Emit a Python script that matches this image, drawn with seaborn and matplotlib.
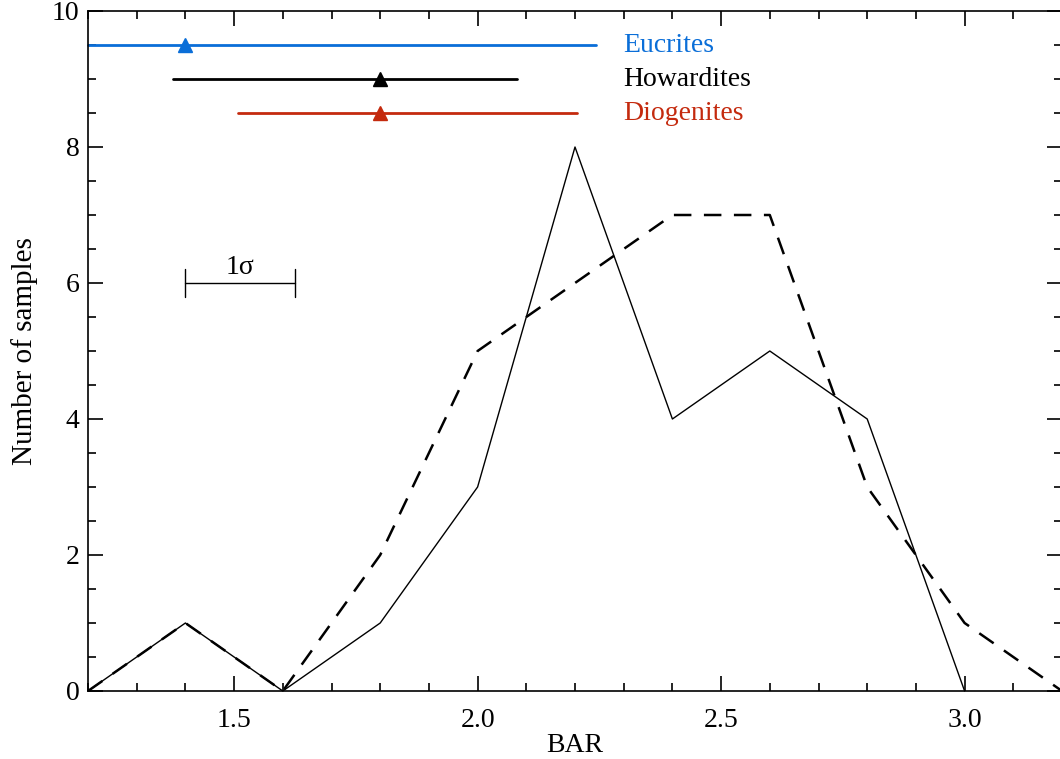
import matplotlib
matplotlib.use("Agg")
import matplotlib.pyplot as plt
from matplotlib.ticker import MultipleLocator
import seaborn as sns
import pandas as pd

# Data
bar_x = [1.2, 1.4, 1.6, 1.8, 2.0, 2.2, 2.4, 2.6, 2.8, 3.0]
solid_counts = [0, 1, 0, 1, 3, 8, 4, 5, 4, 0]
dash_x = [1.2, 1.4, 1.6, 1.8, 2.0, 2.2, 2.4, 2.6, 2.8, 3.0, 3.2]
dash_counts = [0, 1, 0, 2, 5, 6, 7, 7, 3, 1, 0]

groups = ["Eucrites", "Howardites", "Diogenites"]
group_means = [1.4, 1.8, 1.8]
group_lo = [1.2, 1.375, 1.508]
group_hi = [2.244, 2.08, 2.205]
group_y = [9.5, 9.0, 8.5]
group_colors = ["#0a6ed8", "#000000", "#c42a0e"]

sigma_x = [1.4, 1.626]
sigma_y = 6.0

sns.set_style("ticks")
plt.rcParams["font.family"] = ["Liberation Serif", "DejaVu Serif"]
plt.rcParams["text.color"] = "black"
plt.rcParams["axes.labelcolor"] = "black"
plt.rcParams["xtick.color"] = "black"
plt.rcParams["ytick.color"] = "black"

FS = 20

fig = plt.figure(figsize=(10.6, 7.59), dpi=100)
ax = fig.add_axes([88/1060, 1 - 691/759, 974/1060, 680/759])

df_s = pd.DataFrame({"x": bar_x, "y": solid_counts})
df_d = pd.DataFrame({"x": dash_x, "y": dash_counts})
sns.lineplot(data=df_s, x="x", y="y", ax=ax, color="black", linewidth=1.0, clip_on=False)
sns.lineplot(data=df_d, x="x", y="y", ax=ax, color="black", linewidth=1.8,
             dashes=False, linestyle=(0, (7, 5)), clip_on=False)

for name, m, lo, hi, yy, c in zip(groups, group_means, group_lo, group_hi, group_y, group_colors):
    ax.plot([lo, hi], [yy, yy], color=c, linewidth=2.0, clip_on=False)
    ax.plot([m], [yy], marker="^", color=c, markersize=10, linestyle="none")
    ax.text(2.30, yy, name, color=c, fontsize=FS, va="center", ha="left")

# 1 sigma bar
ax.plot(sigma_x, [sigma_y, sigma_y], color="black", linewidth=1.0)
for sx in sigma_x:
    ax.plot([sx, sx], [sigma_y - 0.2, sigma_y + 0.2], color="black", linewidth=1.0)
ax.text(sum(sigma_x) / 2, sigma_y + 0.05, "1σ", fontsize=FS, ha="center", va="bottom")

ax.set_xlim(1.2, 3.2)
ax.set_ylim(0, 10)
ax.xaxis.set_major_locator(MultipleLocator(0.5))
ax.xaxis.set_minor_locator(MultipleLocator(0.1))
ax.yaxis.set_major_locator(MultipleLocator(2))
ax.yaxis.set_minor_locator(MultipleLocator(0.5))
ax.set_xticks([1.5, 2.0, 2.5, 3.0])
ax.set_xticklabels(["1.5", "2.0", "2.5", "3.0"])
ax.tick_params(which="both", direction="in", top=True, right=True, labelsize=FS, width=1.2)
ax.tick_params(which="major", length=11)
ax.tick_params(axis="x", which="major", pad=12)
ax.tick_params(axis="y", which="major", pad=6)
ax.tick_params(which="minor", length=6)
for s in ax.spines.values():
    s.set_linewidth(1.2)
    s.set_color("black")
ax.set_xlabel("BAR", fontsize=FS, labelpad=0)
ax.set_ylabel("Number of samples", fontsize=FS + 1, labelpad=10)

fig.savefig("out.png", dpi=100)
